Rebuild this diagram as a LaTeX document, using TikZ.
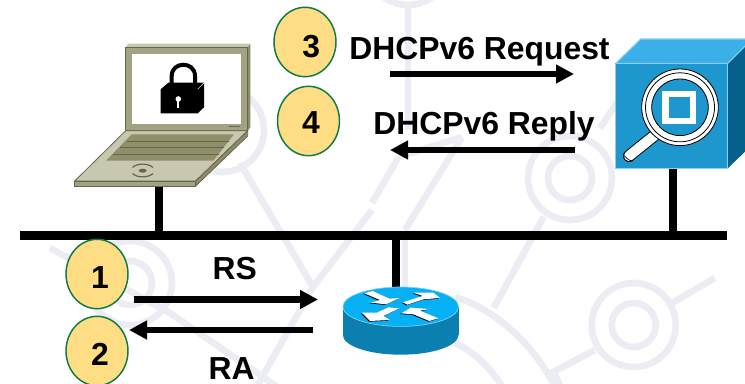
\documentclass[tikz,border=0pt]{standalone}
\usepackage{fontspec}
\setmainfont{Liberation Sans}
\usetikzlibrary{arrows.meta,shapes.geometric}
\definecolor{markgray}{HTML}{ECECF5}
\definecolor{dotfill}{HTML}{FEDD85}
\definecolor{dotedge}{HTML}{0E7A45}
\definecolor{lidcol}{HTML}{A3A383}
\definecolor{lidside}{HTML}{8C8C6C}
\definecolor{basecol}{HTML}{C8C8B0}
\definecolor{keycol}{HTML}{8F8F6C}
\definecolor{darkcol}{HTML}{66664A}
\definecolor{boxfront}{HTML}{1E96CE}
\definecolor{boxtop}{HTML}{3BB0E8}
\definecolor{boxside}{HTML}{05608A}
\definecolor{boxedge}{HTML}{8AD0EE}
\definecolor{routertop}{HTML}{05B0F5}
\definecolor{routerside}{HTML}{0A7FB0}
\tikzset{
  stepdot/.style={draw=dotedge,fill=dotfill,ellipse,line width=1.1pt,inner sep=0pt,minimum width=46.5pt,minimum height=52pt},
  steptext/.style={font=\bfseries\fontsize{23.9}{24}\selectfont,anchor=base,inner sep=0pt},
  busline/.style={line width=6.8pt},
  stubline/.style={line width=6pt},
  msgarrow/.style={line width=4.7pt,-{Triangle[length=13.5pt,width=13.5pt]}},
  markline/.style={draw=markgray,line width=5pt},
  laptopline/.style={draw=darkcol,line width=0.6pt},
}
\begin{document}
\begin{tikzpicture}[x=0.75pt,y=-0.75pt]
      \clip (0,0) rectangle (745,384);
      \draw[markline] (570,178) circle (42);
      \draw[markline] (570,178) circle (22);
      \draw[markline] (633.7,325) circle (42);
      \draw[markline] (633.7,325) circle (22);
      \draw[markline] (130,283) circle (42);
      \draw[markline] (130,283) circle (22);
      \draw[markline] (222,130) circle (42);
      \draw[markline] (408,-37) circle (42);
      \draw[markline] (408,5) -- (408,130);
      \draw[markline] (672,303) -- (715,278);
      \draw[markline] (595,350) -- (553.7,371.7) -- (562,390);
      \draw[markline] (455,297) .. controls (492,308) and (530,340) .. (553.7,384);
      \draw[markline] (455,343) .. controls (475,352) and (490,368) .. (502,386);
      \draw[markline] (543.7,216.7) -- (493.7,308);
      \draw[markline] (462,137) -- (405,230);
      \draw[markline] (398.7,157) -- (372,203);
      \draw[markline] (398.7,157) -- (462,137);
      \draw[markline] (405,235) -- (405,290);
      \draw[markline] (240,163) -- (313,287);
      \draw[markline] (372,210) -- (313,287) -- (257,386);
      \draw[markline] (50,248) -- (170,313) -- (276,386);
      \draw[markline] (600,128) -- (620,98);

      \coordinate (busleft) at (20,235.5);
      \coordinate (busright) at (727,235.5);
      \coordinate (laptopfoot) at (158.5,186);
      \coordinate (laptopbus) at (158.5,235.5);
      \coordinate (serverfoot) at (673,168);
      \coordinate (serverbus) at (673,235.5);
      \coordinate (routerbus) at (396,235.5);
      \coordinate (routerhead) at (396,292);
      \draw[stubline] (laptopfoot) -- (laptopbus);
      \draw[stubline] (serverfoot) -- (serverbus);
      \draw[stubline] (routerbus) -- (routerhead);
      \draw[busline] (busleft) -- (busright);

      \fill[lidcol] (125.7,47.3) -- (247.7,47.3) -- (247.7,130.7) -- (125.7,130.7) -- cycle;
      \fill[basecol] (125.7,43.7) ++(2.6,0) -- (250.3,43.7) -- (247.7,47.3) -- (125.7,47.3) -- cycle;
      \fill[lidside] (247.7,47.3) -- (250.3,43.7) -- (250.3,127.3) -- (247.7,130.7) -- cycle;
      \draw[laptopline] (125.7,47.3) -- (247.7,47.3) -- (247.7,130.7) -- (125.7,130.7) -- cycle;
      \fill[white] (131.7,54.3) rectangle (241,124.3);
      \fill[darkcol] (229.3,126) rectangle (240,127.3);
      \draw[laptopline,fill=basecol] (125.7,130.7) -- (247.7,130.7) -- (195.7,181) -- (74.7,181) -- cycle;
      \draw[laptopline,fill=lidcol] (74.7,181) -- (195.7,181) -- (195.7,186) -- (74.7,186) -- cycle;
      \draw[laptopline,fill=lidside] (195.7,181) -- (247.7,130.7) -- (247.7,136) -- (195.7,186) -- cycle;
      \fill[keycol] (131.7,134.3) -- (234,134.3) -- (213.3,160.7) -- (106,160.7) -- cycle;
      \draw[laptopline] (126.5,141) -- (228.5,141);
      \draw[laptopline] (119.5,147.7) -- (223.5,147.7);
      \draw[laptopline] (113,154) -- (218.5,154);
      \fill[darkcol] (142.7,170.7) ellipse [x radius=4,y radius=2];
      \draw[laptopline,line width=0.9pt] (153,167.5) .. controls (148,163) and (137,163) .. (132.5,167.5);
      \draw[laptopline,line width=0.9pt] (153,173.5) .. controls (148,178) and (137,178) .. (132.5,173.5);

      \draw[black,line width=3pt] (171.7,86) -- (171.7,76) .. controls (171.7,61) and (195,61) .. (195,76) -- (195,86);
      \fill[black] (160.7,89.3) -- (168.3,82.7) -- (204,82.7) -- (204,107.3) -- (197.7,113.3) -- (160.7,113.3) -- cycle;
      \draw[white,line width=0.3pt] (197.7,89.3) -- (204,82.7);
      \fill[white] (178.3,99) circle (2.8);
      \draw[white,line width=1.6pt] (178.3,99) -- (178.3,108);

      \fill[boxside] (727.7,63.3) -- (752,30) -- (752,145) -- (727.7,168.3) -- cycle;
      \draw[boxedge,fill=boxtop,line width=0.8pt] (615.7,63.3) -- (640.7,39) -- (752,39) -- (727.7,63.3) -- cycle;
      \draw[boxedge,fill=boxfront,line width=0.8pt] (615.7,63.3) rectangle (727.7,168.3);
      \draw[black,line width=9pt,line cap=round] (655,135) -- (629,156);
      \draw[white,line width=7.6pt,line cap=round] (655,135) -- (629,156);
      \draw[black,line width=0.5pt] (623,154) .. controls (626,158) and (629,161) .. (633,161);
      \draw[black,fill=white,line width=0.6pt] (680,107.3) circle (38.3);
      \draw[black,line width=0.6pt] (680,107.3) circle (34.5);
      \draw[black,fill=boxfront,line width=0.6pt] (680,107.3) circle (28.3);
      \fill[white] (662.3,91) rectangle (696,124);
      \fill[boxfront] (668.7,97) rectangle (690,118);

      \fill[routerside] (343,306.7) rectangle (458.5,335);
      \fill[routerside] (400.7,335) ellipse [x radius=57.8,y radius=19.7];
      \draw[boxedge,fill=routertop,line width=0.5pt] (400.7,306.7) ellipse [x radius=57.8,y radius=19.7];
      \begin{scope}[shift={(320,270)},scale=1/3]
        \fill[black] (130,72) -- (155,65) -- (205,88) -- (237,86) -- (195,105) -- (149,100) -- (177,92) -- cycle;
        \fill[black] (245,99) -- (305,80) -- (277,70) -- (337,70) -- (357,86) -- (307,90) -- (259,106) -- cycle;
        \fill[black] (122,130) -- (167,130) -- (202,114) -- (235,117) -- (187,140) -- (207,152) -- (147,155) -- cycle;
        \fill[black] (240,132) -- (269,115) -- (325,119) -- (297,124) -- (352,147) -- (325,155) -- (277,135) -- cycle;
        \fill[white] (133,70) -- (158,63) -- (208,86) -- (240,84) -- (198,103) -- (152,98) -- (180,90) -- cycle;
        \fill[white] (248,97) -- (308,78) -- (280,68) -- (340,68) -- (360,84) -- (310,88) -- (262,104) -- cycle;
        \fill[white] (125,128) -- (170,128) -- (205,112) -- (238,115) -- (190,138) -- (210,150) -- (150,153) -- cycle;
        \fill[white] (243,130) -- (272,113) -- (328,117) -- (300,122) -- (355,145) -- (328,153) -- (280,133) -- cycle;
      \end{scope}

      \node[stepdot] (dot3) at (305,42) {};
      \node[stepdot] (dot4) at (308.5,121) {};
      \node[stepdot] (dot1) at (97,274) {};
      \node[stepdot] (dot2) at (97,351) {};
      \node[steptext] (num3) at (311.3,57.7) {3};
      \node[steptext] (num4) at (311,133.3) {4};
      \node[steptext] (num1) at (100,288.3) {1};
      \node[steptext] (num2) at (100,365) {2};

      \node[steptext] (request) at (479.5,60) {DHCPv6 Request};
      \node[steptext] (reply) at (484,135) {DHCPv6 Reply};
      \node[steptext] (rs) at (234.7,279.3) {RS};
      \node[steptext] (ra) at (231.7,379) {RA};

      \coordinate (reqstart) at (390,74);
      \coordinate (reqend) at (574,74);
      \coordinate (repstart) at (575,150);
      \coordinate (repend) at (390,150);
      \coordinate (rsstart) at (134,299.5);
      \coordinate (rsend) at (318,299.5);
      \coordinate (rastart) at (313,330);
      \coordinate (raend) at (129,330);
      \draw[msgarrow] (reqstart) -- (reqend);
      \draw[msgarrow] (repstart) -- (repend);
      \draw[msgarrow] (rsstart) -- (rsend);
      \draw[msgarrow] (rastart) -- (raend);
\end{tikzpicture}
\end{document}
